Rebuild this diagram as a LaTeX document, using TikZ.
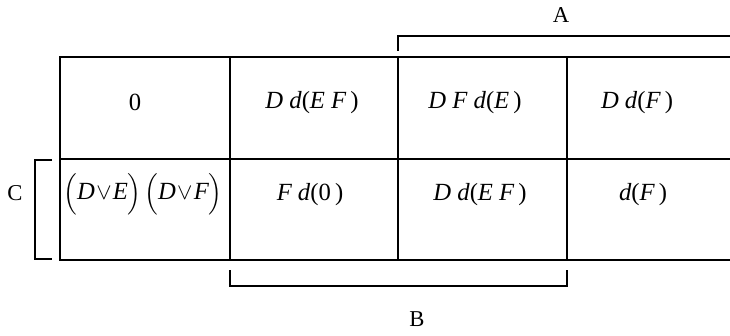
\documentclass[tikz,border=0pt]{standalone}
\usepackage{amsmath}
\usepackage{fontspec}
\setmainfont{Liberation Serif}
\usepackage{tikz}

\tikzset{
  cell/.style={font=\fontsize{18.5}{20}\selectfont\itshape, inner sep=0pt},
  lbl/.style={font=\fontsize{17}{19}\selectfont, inner sep=0pt},
  grid/.style={line width=1.1pt},
  brace/.style={line width=1pt}
}
\newcommand{\up}[1]{\textup{#1}}

\begin{document}
\begin{tikzpicture}[x=0.75pt,y=0.75pt,yscale=-1,xscale=1]
%set diagram left start at 0, and has height of 335
\useasboundingbox (0,0) rectangle (730,335);

%Shape: Grid lines
\draw [grid] (730,57) -- (60,57) -- (60,260) -- (730,260) ;
\draw [grid] (60,159) -- (730,159) ;
\draw [grid] (230,57) -- (230,260) ;
\draw [grid] (398,57) -- (398,260) ;
\draw [grid] (567,57) -- (567,260) ;

%Straight Lines: bracket A
\draw [brace] (398,51) -- (398,36) -- (730,36) ;
%Straight Lines: bracket B
\draw [brace] (230,270) -- (230,286) -- (567,286) -- (567,270) ;
%Straight Lines: bracket C
\draw [brace] (52,160) -- (35,160) -- (35,259) -- (52,259) ;

% Text Node
\draw (561,15) node [lbl] (labA) {A};
% Text Node
\draw (417,319) node [lbl] (labB) {B};
% Text Node
\draw (15,193) node [lbl] (labC) {C};

% Text Node
\draw (135,102) node [cell] (c11) {\up{0}};
% Text Node
\draw (312,103) node [cell] (c12) {D d\up{(}E F\,\up{)}};
% Text Node
\draw (475,103) node [cell] (c13) {D F d\up{(}E\,\up{)}};
% Text Node
\draw (637,103) node [cell] (c14) {D d\up{(}F\,\up{)}};
% Text Node
\draw (143,194) node [cell] (c21) {$\Bigl($D$\mkern1mu\vee\mkern1mu$E$\Bigr)\mkern2mu\Bigl($D$\mkern1mu\vee\mkern1mu$F$\Bigr)$};
% Text Node
\draw (310,195) node [cell] (c22) {F d\up{(0\,)}};
% Text Node
\draw (480,195) node [cell] (c23) {D d\up{(}E F\,\up{)}};
% Text Node
\draw (643,195) node [cell] (c24) {d\up{(}F\,\up{)}};

\end{tikzpicture}
\end{document}
